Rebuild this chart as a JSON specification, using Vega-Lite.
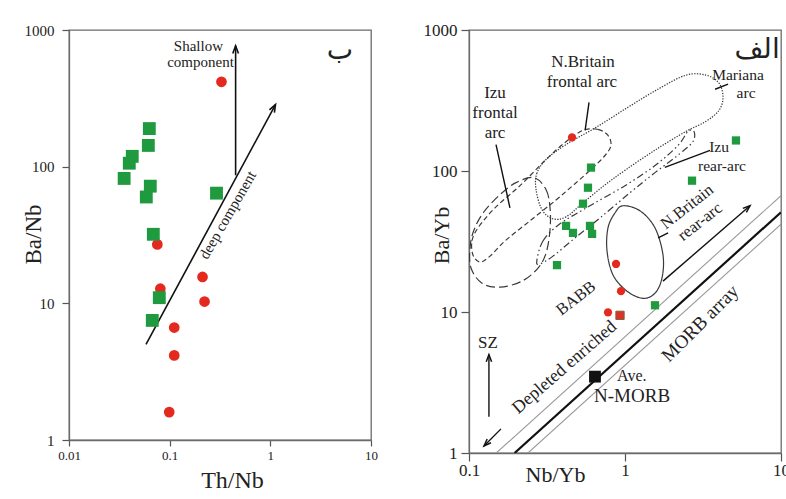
{
  "$schema": "https://vega.github.io/schema/vega-lite/v6.json",
  "background": "white",
  "padding": {"left": 21, "top": 20, "right": 0, "bottom": 0},
  "spacing": 98,
  "bounds": "flush",
  "datasets": {
    "lp": [
      {"x": 0.327, "y": 418, "g": "red"},
      {"x": 0.0754, "y": 27, "g": "red"},
      {"x": 0.0808, "y": 12.8, "g": "red"},
      {"x": 0.212, "y": 15.6, "g": "red"},
      {"x": 0.222, "y": 10.3, "g": "red"},
      {"x": 0.111, "y": 6.65, "g": "red"},
      {"x": 0.111, "y": 4.16, "g": "red"},
      {"x": 0.099, "y": 1.6, "g": "red"},
      {"x": 0.0628, "y": 190, "g": "green"},
      {"x": 0.0614, "y": 143, "g": "green"},
      {"x": 0.0425, "y": 119, "g": "green"},
      {"x": 0.0397, "y": 106, "g": "green"},
      {"x": 0.0353, "y": 82, "g": "green"},
      {"x": 0.0642, "y": 72, "g": "green"},
      {"x": 0.0586, "y": 60, "g": "green"},
      {"x": 0.292, "y": 64, "g": "green"},
      {"x": 0.0688, "y": 32, "g": "green"},
      {"x": 0.0789, "y": 11, "g": "green"},
      {"x": 0.0672, "y": 7.5, "g": "green"}
    ],
    "lseg": [
      {"s": "vert", "i": 1, "x": 0.452, "y": 86.5},
      {"s": "vert", "i": 2, "x": 0.452, "y": 766},
      {"s": "diag", "i": 1, "x": 0.0582, "y": 5.0},
      {"s": "diag", "i": 2, "x": 1.125, "y": 284.8}
    ],
    "lhead": [
      {"a": "vert", "x": 0.452, "y": 766},
      {"a": "diag", "x": 1.125, "y": 284.8}
    ],
    "ltext": [
      {"t": "Shallow", "x": 0.193, "y": 769, "g": "n"},
      {"t": "component", "x": 0.2025, "y": 586, "g": "n"},
      {"t": "deep component", "x": 0.376, "y": 44.3, "g": "rot"},
      {"t": "ب", "x": 4.92, "y": 704, "g": "ar"}
    ],
    "rp": [
      {"x": 0.4574, "y": 173, "g": "red"},
      {"x": 0.876, "y": 21.9, "g": "red"},
      {"x": 0.9428, "y": 14.05, "g": "red"},
      {"x": 0.778, "y": 9.95, "g": "red"},
      {"x": 5.145, "y": 164.7, "g": "green"},
      {"x": 2.689, "y": 85.4, "g": "green"},
      {"x": 0.6055, "y": 105.7, "g": "green"},
      {"x": 0.579, "y": 76.1, "g": "green"},
      {"x": 0.538, "y": 58.6, "g": "green"},
      {"x": 0.419, "y": 40.8, "g": "green"},
      {"x": 0.464, "y": 36.4, "g": "green"},
      {"x": 0.5965, "y": 40.8, "g": "green"},
      {"x": 0.615, "y": 35.8, "g": "green"},
      {"x": 0.3665, "y": 21.5, "g": "green"},
      {"x": 1.557, "y": 11.16, "g": "green"},
      {"x": 0.929, "y": 9.47, "g": "mix"},
      {"x": 0.642, "y": 3.48, "g": "black"}
    ],
    "contour": [
      {"c": "Mariana", "i": 1, "x": 0.269, "y": 73.7},
      {"c": "Mariana", "i": 2, "x": 0.272, "y": 95.8},
      {"c": "Mariana", "i": 3, "x": 0.312, "y": 120.6},
      {"c": "Mariana", "i": 4, "x": 0.419, "y": 154.2},
      {"c": "Mariana", "i": 5, "x": 0.652, "y": 203.9},
      {"c": "Mariana", "i": 6, "x": 1.045, "y": 283.1},
      {"c": "Mariana", "i": 7, "x": 1.627, "y": 380.4},
      {"c": "Mariana", "i": 8, "x": 2.46, "y": 478.6},
      {"c": "Mariana", "i": 9, "x": 3.306, "y": 478.6},
      {"c": "Mariana", "i": 10, "x": 4.006, "y": 419.7},
      {"c": "Mariana", "i": 11, "x": 4.249, "y": 333.6},
      {"c": "Mariana", "i": 12, "x": 4.006, "y": 269.4},
      {"c": "Mariana", "i": 13, "x": 3.306, "y": 224.9},
      {"c": "Mariana", "i": 14, "x": 2.46, "y": 190.9},
      {"c": "Mariana", "i": 15, "x": 1.58, "y": 142.1},
      {"c": "Mariana", "i": 16, "x": 1.015, "y": 102.3},
      {"c": "Mariana", "i": 17, "x": 0.733, "y": 78.7},
      {"c": "Mariana", "i": 18, "x": 0.53, "y": 58.6},
      {"c": "Mariana", "i": 19, "x": 0.419, "y": 47.3},
      {"c": "Mariana", "i": 20, "x": 0.3455, "y": 45.8},
      {"c": "Mariana", "i": 21, "x": 0.2938, "y": 53.1},
      {"c": "NBF", "i": 1, "x": 0.538, "y": 194.1},
      {"c": "NBF", "i": 2, "x": 0.671, "y": 197.3},
      {"c": "NBF", "i": 3, "x": 0.778, "y": 178.8},
      {"c": "NBF", "i": 4, "x": 0.813, "y": 151.7},
      {"c": "NBF", "i": 5, "x": 0.744, "y": 128.8},
      {"c": "NBF", "i": 6, "x": 0.6235, "y": 105.7},
      {"c": "NBF", "i": 7, "x": 0.478, "y": 81.3},
      {"c": "NBF", "i": 8, "x": 0.356, "y": 61.5},
      {"c": "NBF", "i": 9, "x": 0.246, "y": 44.3},
      {"c": "NBF", "i": 10, "x": 0.17, "y": 31.9},
      {"c": "NBF", "i": 11, "x": 0.1364, "y": 24.9},
      {"c": "NBF", "i": 12, "x": 0.1176, "y": 22.6},
      {"c": "NBF", "i": 13, "x": 0.106, "y": 25.4},
      {"c": "NBF", "i": 14, "x": 0.1045, "y": 31.9},
      {"c": "NBF", "i": 15, "x": 0.1142, "y": 39.5},
      {"c": "NBF", "i": 16, "x": 0.1468, "y": 54.8},
      {"c": "NBF", "i": 17, "x": 0.2123, "y": 78.7},
      {"c": "NBF", "i": 18, "x": 0.307, "y": 118.6},
      {"c": "NBF", "i": 19, "x": 0.4124, "y": 159.4},
      {"c": "IzuF", "i": 1, "x": 0.261, "y": 89.7},
      {"c": "IzuF", "i": 2, "x": 0.312, "y": 73.7},
      {"c": "IzuF", "i": 3, "x": 0.3306, "y": 54.8},
      {"c": "IzuF", "i": 4, "x": 0.3306, "y": 38.2},
      {"c": "IzuF", "i": 5, "x": 0.312, "y": 26.2},
      {"c": "IzuF", "i": 6, "x": 0.277, "y": 20.5},
      {"c": "IzuF", "i": 7, "x": 0.2187, "y": 16.55},
      {"c": "IzuF", "i": 8, "x": 0.158, "y": 15.0},
      {"c": "IzuF", "i": 9, "x": 0.1212, "y": 16.0},
      {"c": "IzuF", "i": 10, "x": 0.103, "y": 20.5},
      {"c": "IzuF", "i": 11, "x": 0.1015, "y": 28.4},
      {"c": "IzuF", "i": 12, "x": 0.1076, "y": 38.2},
      {"c": "IzuF", "i": 13, "x": 0.1248, "y": 51.4},
      {"c": "IzuF", "i": 14, "x": 0.158, "y": 67.9},
      {"c": "IzuF", "i": 15, "x": 0.2001, "y": 82.7},
      {"c": "IzuR", "i": 1, "x": 0.272, "y": 23.0},
      {"c": "IzuR", "i": 2, "x": 0.298, "y": 31.9},
      {"c": "IzuR", "i": 3, "x": 0.383, "y": 42.2},
      {"c": "IzuR", "i": 4, "x": 0.5965, "y": 56.7},
      {"c": "IzuR", "i": 5, "x": 1.0, "y": 78.7},
      {"c": "IzuR", "i": 6, "x": 1.557, "y": 109.3},
      {"c": "IzuR", "i": 7, "x": 2.186, "y": 151.7},
      {"c": "IzuR", "i": 8, "x": 2.534, "y": 190.9},
      {"c": "IzuR", "i": 9, "x": 2.769, "y": 190.9},
      {"c": "IzuR", "i": 10, "x": 2.729, "y": 162.0},
      {"c": "IzuR", "i": 11, "x": 2.252, "y": 133.0},
      {"c": "IzuR", "i": 12, "x": 1.557, "y": 97.4},
      {"c": "IzuR", "i": 13, "x": 1.077, "y": 70.2},
      {"c": "IzuR", "i": 14, "x": 0.6914, "y": 46.5},
      {"c": "IzuR", "i": 15, "x": 0.478, "y": 33.5},
      {"c": "IzuR", "i": 16, "x": 0.3455, "y": 24.9},
      {"c": "IzuR", "i": 17, "x": 0.285, "y": 21.9},
      {"c": "NBR", "i": 1, "x": 0.971, "y": 56.7},
      {"c": "NBR", "i": 2, "x": 1.248, "y": 52.2},
      {"c": "NBR", "i": 3, "x": 1.557, "y": 39.5},
      {"c": "NBR", "i": 4, "x": 1.752, "y": 25.4},
      {"c": "NBR", "i": 5, "x": 1.726, "y": 17.4},
      {"c": "NBR", "i": 6, "x": 1.557, "y": 13.6},
      {"c": "NBR", "i": 7, "x": 1.305, "y": 12.5},
      {"c": "NBR", "i": 8, "x": 1.03, "y": 14.05},
      {"c": "NBR", "i": 9, "x": 0.838, "y": 18.3},
      {"c": "NBR", "i": 10, "x": 0.767, "y": 27.1},
      {"c": "NBR", "i": 11, "x": 0.778, "y": 39.5},
      {"c": "NBR", "i": 12, "x": 0.863, "y": 50.5}
    ],
    "rseg": [
      {"s": "g1", "i": 1, "x": 0.1496, "y": 1},
      {"s": "g1", "i": 2, "x": 10, "y": 66.8},
      {"s": "g2", "i": 1, "x": 0.2388, "y": 1},
      {"s": "g2", "i": 2, "x": 10, "y": 41.9},
      {"s": "blk", "i": 1, "x": 0.196, "y": 1},
      {"s": "blk", "i": 2, "x": 10, "y": 51.0},
      {"s": "L1", "i": 1, "x": 0.588, "y": 307},
      {"s": "L1", "i": 2, "x": 0.555, "y": 194},
      {"s": "L2", "i": 1, "x": 0.149, "y": 154},
      {"s": "L2", "i": 2, "x": 0.183, "y": 54.8},
      {"s": "L3", "i": 1, "x": 3.78, "y": 380},
      {"s": "L3", "i": 2, "x": 4.58, "y": 413},
      {"s": "L4", "i": 1, "x": 3.51, "y": 140},
      {"s": "L4", "i": 2, "x": 1.8, "y": 106},
      {"s": "L5", "i": 1, "x": 1.63, "y": 33.5},
      {"s": "L5", "i": 2, "x": 1.89, "y": 36.4},
      {"s": "A1", "i": 1, "x": 1.752, "y": 16.55},
      {"s": "A1", "i": 2, "x": 6.33, "y": 56.7},
      {"s": "A2", "i": 1, "x": 0.1342, "y": 1.806},
      {"s": "A2", "i": 2, "x": 0.1342, "y": 4.99},
      {"s": "A3", "i": 1, "x": 0.1603, "y": 1.483},
      {"s": "A3", "i": 2, "x": 0.1248, "y": 1.122}
    ],
    "rhead": [
      {"a": "A1", "x": 6.33, "y": 56.7},
      {"a": "A2", "x": 0.1342, "y": 4.99},
      {"a": "A3", "x": 0.1248, "y": 1.122}
    ],
    "rtext": [
      {"t": "N.Britain", "x": 0.538, "y": 592, "g": "big"},
      {"t": "frontal arc", "x": 0.53, "y": 427, "g": "big"},
      {"t": "Izu", "x": 0.1468, "y": 356, "g": "big"},
      {"t": "frontal", "x": 0.1468, "y": 256.6, "g": "big"},
      {"t": "arc", "x": 0.1468, "y": 185, "g": "big"},
      {"t": "Mariana", "x": 5.3, "y": 478, "g": "mid"},
      {"t": "arc", "x": 5.97, "y": 356, "g": "mid"},
      {"t": "Izu", "x": 4.006, "y": 146.8, "g": "mid"},
      {"t": "rear-arc", "x": 4.186, "y": 109.3, "g": "mid"},
      {"t": "N.Britain", "x": 2.497, "y": 55.7, "g": "r38"},
      {"t": "rear-arc", "x": 3.026, "y": 43.6, "g": "r38"},
      {"t": "BABB", "x": 0.485, "y": 12.5, "g": "r38"},
      {"t": "Depleted enriched", "x": 0.41, "y": 4.04, "g": "r41"},
      {"t": "MORB array", "x": 3.03, "y": 8.3, "g": "r45"},
      {"t": "SZ", "x": 0.1324, "y": 5.98, "g": "big"},
      {"t": "Ave.", "x": 0.889, "y": 3.54, "g": "left"},
      {"t": "N-MORB", "x": 1.11, "y": 2.55, "g": "nmorb"},
      {"t": "الف", "x": 7.02, "y": 721, "g": "ar"}
    ]
  },
  "hconcat": [
    {
      "width": 302,
      "height": 410,
      "encoding": {
        "x": {"field": "x", "type": "quantitative",
          "scale": {"type": "log", "domain": [0.01, 10], "nice": false},
          "axis": {"values": [0.01, 0.1, 1, 10], "format": "~g", "title": "Th/Nb",
            "titleFontSize": 24, "titleX": 163, "titleY": 47, "titleBaseline": "alphabetic", "titleAlign": "center",
            "labelFontSize": 13, "tickSize": 6, "labelPadding": 3, "labelFlush": false, "labelOverlap": false}},
        "y": {"field": "y", "type": "quantitative",
          "scale": {"type": "log", "domain": [1, 1000], "nice": false},
          "axis": {"values": [1, 10, 100, 1000], "format": "~g", "title": "Ba/Nb",
            "titleFontSize": 23, "titleAngle": -90, "titleX": -29, "titleY": 204, "titleBaseline": "alphabetic", "titleAlign": "center",
            "labelFontSize": 15, "tickSize": 7, "labelPadding": 8, "labelFlush": false, "labelOverlap": false}}
      },
      "layer": [
        {
          "data": {"name": "lseg"},
          "mark": {"type": "line", "color": "#111", "strokeWidth": 1.6, "clip": true},
          "encoding": {"detail": {"field": "s"}, "order": {"field": "i", "type": "quantitative"}}
        },
        {
          "data": {"name": "lhead"},
          "transform": [{"filter": "datum.a == 'vert'"}],
          "mark": {"type": "point", "shape": "M-0.6,1.6L0,0L0.6,1.6", "filled": false, "stroke": "#111", "strokeWidth": 1.6, "size": 90, "angle": 0, "opacity": 1}
        },
        {
          "data": {"name": "lhead"},
          "transform": [{"filter": "datum.a == 'diag'"}],
          "mark": {"type": "point", "shape": "M-0.6,1.6L0,0L0.6,1.6", "filled": false, "stroke": "#111", "strokeWidth": 1.6, "size": 90, "angle": 28, "opacity": 1}
        },
        {
          "data": {"name": "lp"},
          "transform": [{"filter": "datum.g == 'red'"}],
          "mark": {"type": "point", "shape": "circle", "filled": true, "color": "#e42a1f", "size": 115, "opacity": 1}
        },
        {
          "data": {"name": "lp"},
          "transform": [{"filter": "datum.g == 'green'"}],
          "mark": {"type": "point", "shape": "square", "filled": true, "color": "#1f9a3e", "size": 165, "opacity": 1}
        },
        {
          "data": {"name": "ltext"},
          "transform": [{"filter": "datum.g == 'n'"}],
          "mark": {"type": "text", "font": "Liberation Serif", "fontSize": 15, "color": "#222", "align": "center", "baseline": "middle"},
          "encoding": {"text": {"field": "t"}}
        },
        {
          "data": {"name": "ltext"},
          "transform": [{"filter": "datum.g == 'rot'"}],
          "mark": {"type": "text", "font": "Liberation Serif", "fontSize": 15, "color": "#222", "align": "center", "baseline": "middle", "angle": -60},
          "encoding": {"text": {"field": "t"}}
        },
        {
          "data": {"name": "ltext"},
          "transform": [{"filter": "datum.g == 'ar'"}],
          "mark": {"type": "text", "font": "DejaVu Sans", "fontSize": 28, "color": "#222", "align": "center", "baseline": "middle"},
          "encoding": {"text": {"field": "t"}}
        }
      ]
    },
    {
      "width": 312,
      "height": 423,
      "encoding": {
        "x": {"field": "x", "type": "quantitative",
          "scale": {"type": "log", "domain": [0.1, 10], "nice": false},
          "axis": {"values": [0.1, 1, 10], "format": "~g", "title": "Nb/Yb",
            "titleFontSize": 22, "titleX": 86, "titleY": 28, "titleBaseline": "alphabetic", "titleAlign": "center",
            "labelFontSize": 17, "tickSize": 8, "labelPadding": 1, "labelFlush": false, "labelOverlap": false}},
        "y": {"field": "y", "type": "quantitative",
          "scale": {"type": "log", "domain": [1, 1000], "nice": false},
          "axis": {"values": [1, 10, 100, 1000], "format": "~g", "title": "Ba/Yb",
            "titleFontSize": 22, "titleAngle": -90, "titleX": -21, "titleY": 205, "titleBaseline": "alphabetic", "titleAlign": "center",
            "labelFontSize": 17, "tickSize": 8, "labelPadding": 4, "labelFlush": false, "labelOverlap": false}}
      },
      "layer": [
        {
          "data": {"name": "contour"},
          "transform": [{"filter": "datum.c == 'Mariana'"}],
          "mark": {"type": "line", "interpolate": "cardinal-closed", "color": "#333", "strokeWidth": 1.2, "strokeDash": [1.3, 1.4], "clip": true},
          "encoding": {"order": {"field": "i", "type": "quantitative"}}
        },
        {
          "data": {"name": "contour"},
          "transform": [{"filter": "datum.c != 'Mariana'"}],
          "mark": {"type": "line", "interpolate": "cardinal-closed", "color": "#3a3a3a", "strokeWidth": 1.2, "clip": true},
          "encoding": {
            "strokeDash": {"field": "c", "type": "nominal", "legend": null,
              "scale": {"domain": ["NBF", "IzuF", "IzuR", "NBR"], "range": [[5, 3], [9, 4], [7, 3, 1.5, 3, 1.5, 3], [1, 0]]}},
            "order": {"field": "i", "type": "quantitative"}
          }
        },
        {
          "data": {"name": "rseg"},
          "transform": [{"filter": "datum.s == 'g1' || datum.s == 'g2'"}],
          "mark": {"type": "line", "color": "#9a9a9a", "strokeWidth": 1.1, "clip": true},
          "encoding": {"detail": {"field": "s"}, "order": {"field": "i", "type": "quantitative"}}
        },
        {
          "data": {"name": "rseg"},
          "transform": [{"filter": "datum.s == 'blk'"}],
          "mark": {"type": "line", "color": "#111", "strokeWidth": 2.2, "clip": true},
          "encoding": {"order": {"field": "i", "type": "quantitative"}}
        },
        {
          "data": {"name": "rseg"},
          "transform": [{"filter": "datum.s != 'blk' && datum.s != 'g1' && datum.s != 'g2'"}],
          "mark": {"type": "line", "color": "#111", "strokeWidth": 1.4, "clip": true},
          "encoding": {"detail": {"field": "s"}, "order": {"field": "i", "type": "quantitative"}}
        },
        {
          "data": {"name": "rhead"},
          "transform": [{"filter": "datum.a == 'A1'"}],
          "mark": {"type": "point", "shape": "M-0.6,1.6L0,0L0.6,1.6", "filled": false, "stroke": "#111", "strokeWidth": 1.5, "size": 80, "angle": 49, "opacity": 1}
        },
        {
          "data": {"name": "rhead"},
          "transform": [{"filter": "datum.a == 'A2'"}],
          "mark": {"type": "point", "shape": "M-0.6,1.6L0,0L0.6,1.6", "filled": false, "stroke": "#111", "strokeWidth": 1.5, "size": 80, "angle": 0, "opacity": 1}
        },
        {
          "data": {"name": "rhead"},
          "transform": [{"filter": "datum.a == 'A3'"}],
          "mark": {"type": "point", "shape": "M-0.6,1.6L0,0L0.6,1.6", "filled": false, "stroke": "#111", "strokeWidth": 1.5, "size": 80, "angle": 225, "opacity": 1}
        },
        {
          "data": {"name": "rp"},
          "transform": [{"filter": "datum.g == 'red'"}],
          "mark": {"type": "point", "shape": "circle", "filled": true, "color": "#e42a1f", "size": 68, "opacity": 1}
        },
        {
          "data": {"name": "rp"},
          "transform": [{"filter": "datum.g == 'green'"}],
          "mark": {"type": "point", "shape": "square", "filled": true, "color": "#1f9a3e", "size": 68, "opacity": 1}
        },
        {
          "data": {"name": "rp"},
          "transform": [{"filter": "datum.g == 'mix'"}],
          "mark": {"type": "point", "shape": "square", "filled": true, "color": "#d8352a", "stroke": "#8a5a30", "strokeWidth": 1, "size": 68, "opacity": 1}
        },
        {
          "data": {"name": "rp"},
          "transform": [{"filter": "datum.g == 'black'"}],
          "mark": {"type": "point", "shape": "square", "filled": true, "color": "#111", "size": 140, "opacity": 1}
        },
        {
          "data": {"name": "rtext"},
          "transform": [{"filter": "datum.g == 'big'"}],
          "mark": {"type": "text", "font": "Liberation Serif", "fontSize": 17, "color": "#222", "align": "center", "baseline": "middle"},
          "encoding": {"text": {"field": "t"}}
        },
        {
          "data": {"name": "rtext"},
          "transform": [{"filter": "datum.g == 'mid'"}],
          "mark": {"type": "text", "font": "Liberation Serif", "fontSize": 15.5, "color": "#222", "align": "center", "baseline": "middle"},
          "encoding": {"text": {"field": "t"}}
        },
        {
          "data": {"name": "rtext"},
          "transform": [{"filter": "datum.g == 'r38'"}],
          "mark": {"type": "text", "font": "Liberation Serif", "fontSize": 16.5, "color": "#222", "align": "center", "baseline": "middle", "angle": -38},
          "encoding": {"text": {"field": "t"}}
        },
        {
          "data": {"name": "rtext"},
          "transform": [{"filter": "datum.g == 'r41'"}],
          "mark": {"type": "text", "font": "Liberation Serif", "fontSize": 18, "color": "#222", "align": "center", "baseline": "middle", "angle": -41},
          "encoding": {"text": {"field": "t"}}
        },
        {
          "data": {"name": "rtext"},
          "transform": [{"filter": "datum.g == 'r45'"}],
          "mark": {"type": "text", "font": "Liberation Serif", "fontSize": 19, "color": "#222", "align": "center", "baseline": "middle", "angle": -45},
          "encoding": {"text": {"field": "t"}}
        },
        {
          "data": {"name": "rtext"},
          "transform": [{"filter": "datum.g == 'left'"}],
          "mark": {"type": "text", "font": "Liberation Serif", "fontSize": 16, "color": "#222", "align": "left", "baseline": "middle"},
          "encoding": {"text": {"field": "t"}}
        },
        {
          "data": {"name": "rtext"},
          "transform": [{"filter": "datum.g == 'nmorb'"}],
          "mark": {"type": "text", "font": "Liberation Serif", "fontSize": 19, "color": "#222", "align": "center", "baseline": "middle"},
          "encoding": {"text": {"field": "t"}}
        },
        {
          "data": {"name": "rtext"},
          "transform": [{"filter": "datum.g == 'ar'"}],
          "mark": {"type": "text", "font": "DejaVu Sans", "fontSize": 28, "color": "#222", "align": "center", "baseline": "middle"},
          "encoding": {"text": {"field": "t"}}
        }
      ]
    }
  ],
  "config": {
    "view": {"stroke": "#6b6b6b", "strokeWidth": 1.3},
    "axis": {"grid": false, "domainColor": "#6b6b6b", "domainWidth": 1.3, "tickColor": "#555", "tickWidth": 1.2,
      "labelFont": "Liberation Serif", "titleFont": "Liberation Serif", "labelColor": "#222", "titleColor": "#222", "titleFontWeight": "normal"}
  }
}
